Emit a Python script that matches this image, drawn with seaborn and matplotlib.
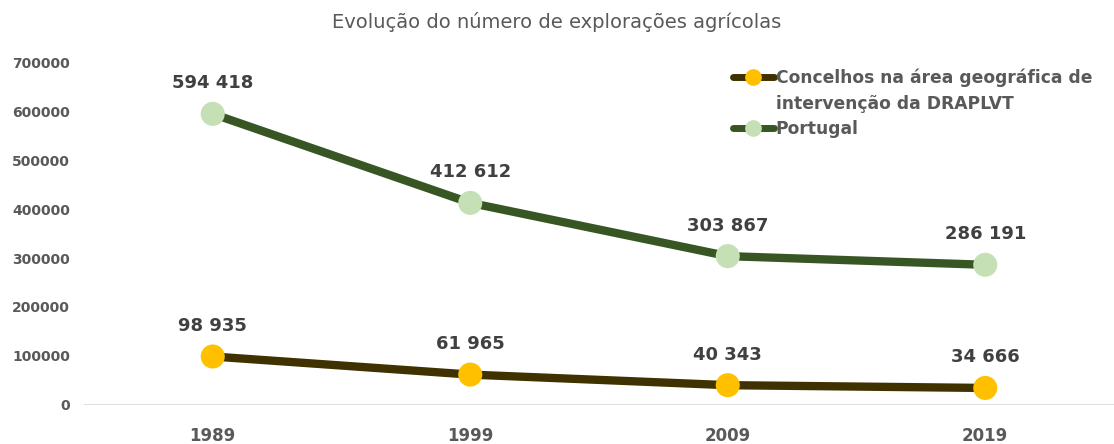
import pandas as pd
import matplotlib.pyplot as plt
import seaborn as sns
from matplotlib.lines import Line2D

sns.set_theme(style="white")
plt.rcParams["font.family"] = ["DejaVu Sans"]

# dados
anos = ["1989", "1999", "2009", "2019"]
concelhos = [98935, 61965, 40343, 34666]
portugal = [594418, 412612, 303867, 286191]
serie_conc = "Concelhos na área geográfica de intervenção da DRAPLVT"
serie_pt = "Portugal"

df = pd.DataFrame({
    "Ano": anos * 2,
    "Valor": concelhos + portugal,
    "Serie": [serie_conc] * 4 + [serie_pt] * 4,
})

cor_linha = {serie_conc: "#3f3100", serie_pt: "#375623"}
cor_marc = {serie_conc: "#ffc000", serie_pt: "#c5e0b4"}
cinza = "#595959"

fig = plt.figure(figsize=(11.14, 4.44), dpi=100)
ax = fig.add_axes([0.0754, 0.088, 0.9246, 0.772])

sns.lineplot(data=df, x="Ano", y="Valor", hue="Serie", palette=cor_linha,
             linewidth=6, legend=False, ax=ax, sort=False)
for s, sub in df.groupby("Serie"):
    ax.scatter(sub["Ano"], sub["Valor"], s=300, color=cor_marc[s], zorder=5,
               edgecolors="none")
    for x, v in zip(sub["Ano"], sub["Valor"]):
        ax.annotate(f"{v:,}".replace(",", " "), (x, v), xytext=(0, 22),
                    textcoords="offset points", ha="center", va="center",
                    fontsize=13, fontweight="bold", color="#404040")

ax.set_xlim(-0.5, 3.5)
ax.set_ylim(0, 700000)
ax.set_yticks(range(0, 700001, 100000))
ax.set_yticklabels([str(v) for v in range(0, 700001, 100000)])
ax.axhline(0, color="#d9d9d9", linewidth=1.2, zorder=1)
for sp in ax.spines.values():
    sp.set_visible(False)
ax.set_xlabel("")
ax.set_ylabel("")
ax.tick_params(axis="y", labelsize=10, labelcolor=cinza, pad=10, length=0)
ax.tick_params(axis="x", labelsize=12, labelcolor=cinza, pad=16, length=0)
for t in ax.get_yticklabels() + ax.get_xticklabels():
    t.set_fontweight("bold")

# legenda: o nome longo ocupa duas linhas, marcador alinhado com a primeira
def marcador(s):
    return Line2D([], [], color=cor_linha[s], linewidth=5, marker="o", markersize=11,
                  markerfacecolor=cor_marc[s], markeredgecolor=cor_marc[s])

handles = [marcador(serie_conc), Line2D([], [], alpha=0), marcador(serie_pt)]
rotulos = ["Concelhos na área geográfica de", "intervenção da DRAPLVT", serie_pt]
leg = ax.legend(handles, rotulos, loc="upper left",
                bbox_to_anchor=(0.615, 1.025), frameon=False, handlelength=2.4,
                handletextpad=0.1, labelspacing=0.42,
                prop={"weight": "bold", "size": 12.3})
for t in leg.get_texts():
    t.set_color(cinza)

fig.text(0.5, 0.95, "Evolução do número de explorações agrícolas", ha="center",
         va="center", fontsize=14, color=cinza)

plt.savefig("out.png", dpi=100)
